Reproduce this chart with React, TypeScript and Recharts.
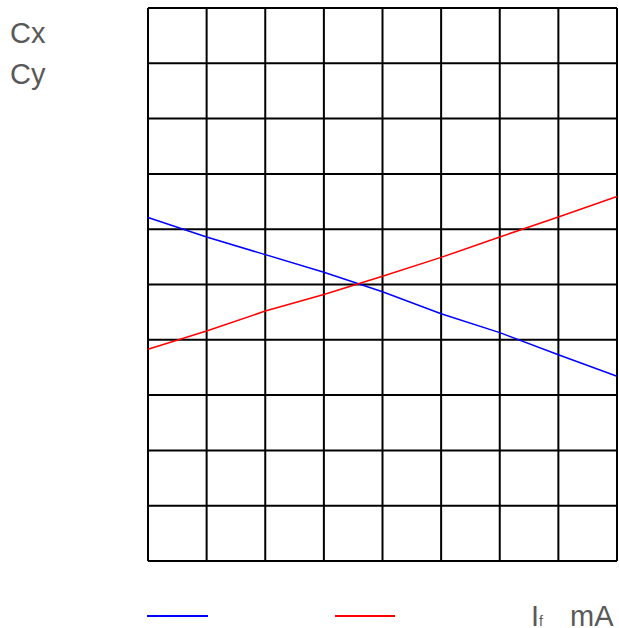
import { LineChart, Line, XAxis, YAxis, CartesianGrid, Legend } from "recharts";

// x positions along the If axis (one per vertical grid line)
const xSteps = [0, 1, 2, 3, 4, 5, 6, 7, 8];
const cxValues = [6.21, 5.86, 5.54, 5.22, 4.87, 4.47, 4.13, 3.73, 3.34];
const cyValues = [3.83, 4.16, 4.52, 4.82, 5.15, 5.49, 5.86, 6.22, 6.59];
const yTicks = [0, 1, 2, 3, 4, 5, 6, 7, 8, 9, 10];

const data = xSteps.map((x, i) => ({ x, cx: cxValues[i], cy: cyValues[i] }));

const textColor = "#595959";
const font = "'Liberation Sans', Arial, sans-serif";

function LegendLines({ payload }: any) {
  const items = payload || [];
  return (
    <div style={{ position: "relative", height: 0 }}>
      <svg width={611} height={20} style={{ position: "absolute", left: 0, top: 0, overflow: "visible" }}>
        {items.map((entry: any, i: number) => (
          <line
            key={`leg-${i}`}
            x1={139 + i * 188}
            x2={200 + i * 187}
            y1={10}
            y2={10}
            stroke={entry.color}
            strokeWidth={2}
          />
        ))}
      </svg>
    </div>
  );
}

export default function App() {
  return (
    <div style={{ position: "relative", width: 619, height: 628, overflow: "hidden", fontFamily: font }}>
      <style>{`html { overflow: hidden; } body { margin: 0; }`}</style>
      <div style={{ position: "absolute", left: 8, top: 6, width: 611, height: 622 }}>
        <LineChart
          width={611}
          height={622}
          data={data}
          margin={{ top: 2, right: 2, bottom: 67, left: 140 }}
        >
          <CartesianGrid stroke="#000" strokeWidth={2} strokeOpacity={1} />
          <XAxis dataKey="x" type="number" domain={[0, 8]} ticks={xSteps} hide />
          <YAxis type="number" domain={[0, 10]} ticks={yTicks} hide />
          <Line dataKey="cx" name="Cx" stroke="#0000ff" strokeWidth={1.5} dot={false} isAnimationActive={false} />
          <Line dataKey="cy" name="Cy" stroke="#ff0000" strokeWidth={1.5} dot={false} isAnimationActive={false} />
          <Legend
            content={<LegendLines />}
            wrapperStyle={{ position: "absolute", left: 0, top: 600, width: 611, height: 0 }}
          />
        </LineChart>
      </div>
      <svg
        width={619}
        height={628}
        style={{ position: "absolute", left: 0, top: 0, pointerEvents: "none" }}
      >
        <text x={10} y={43} fontSize={29} fill={textColor} fontFamily={font}>Cx</text>
        <text x={10} y={84} fontSize={29} fill={textColor} fontFamily={font}>Cy</text>
        <text x={531} y={626} fontSize={29} fill={textColor} fontFamily={font}>I</text>
        <text x={539} y={626} fontSize={14} fill={textColor} fontFamily={font}>f</text>
        <text x={570} y={626} fontSize={29} fill={textColor} fontFamily={font}>mA</text>
      </svg>
    </div>
  );
}
